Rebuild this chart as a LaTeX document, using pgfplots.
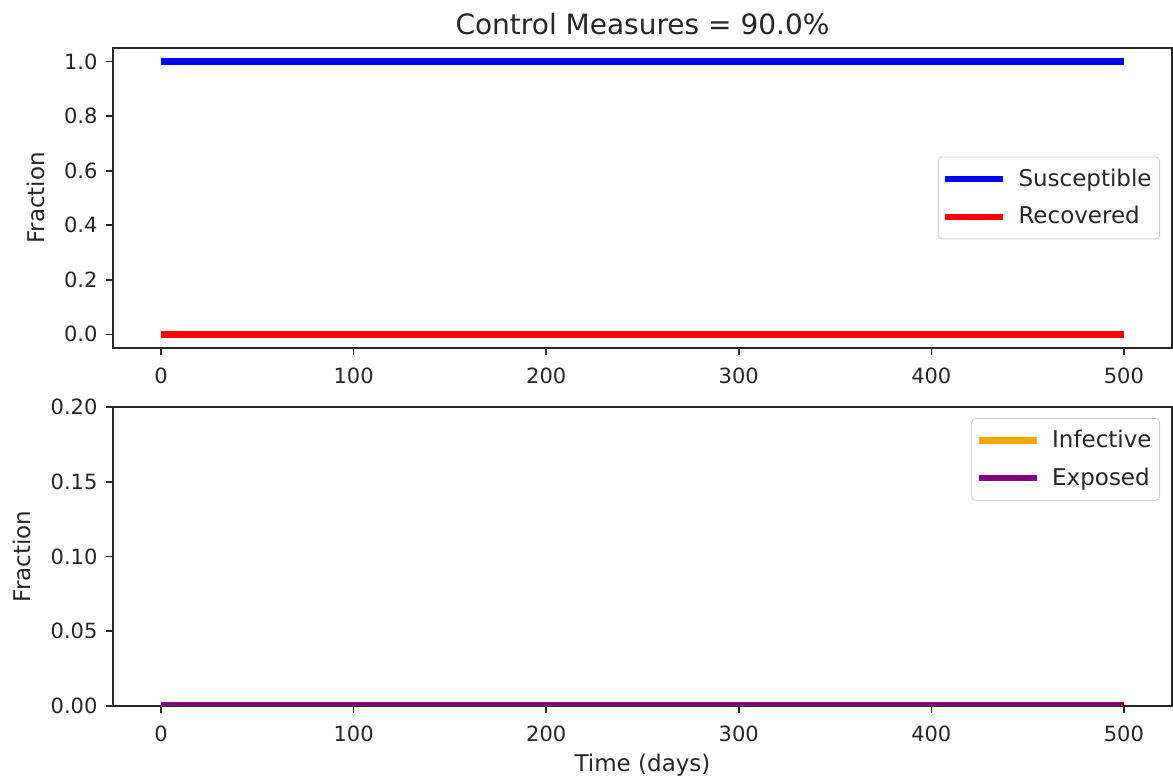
\documentclass[border=0pt]{standalone}
\usepackage{fontspec}
\setmainfont{DejaVu Sans}
\usepackage{pgfplots}
\pgfplotsset{compat=1.18}

\definecolor{cS}{RGB}{0,0,255}
\definecolor{cR}{RGB}{255,0,0}
\definecolor{cI}{RGB}{255,165,0}
\definecolor{cE}{RGB}{128,0,128}

\newcommand{\lblfont}{\fontsize{11.5}{13.5}\selectfont}

\pgfplotsset{
  mplstyle/.style={
    scale only axis,
    width=529.5pt,
    xmin=-25, xmax=525,
    xtick={0,100,200,300,400,500},
    tick align=outside,
    major tick length=3.75pt,
    tick style={black!85, line width=0.8pt},
    axis line style={black!85, line width=0.8pt},
    xtick pos=bottom, ytick pos=left,
    /pgf/number format/assume math mode=true,
    tick label style={font=\fontsize{10.5}{12.5}\selectfont, text=black!85},
    xticklabel style={yshift=-2.5pt},
    yticklabel style={xshift=-0.5pt},
    legend style={font=\lblfont, text=black!85,
      draw=black!20, rounded corners=2pt, fill=white, fill opacity=0.8,
      text opacity=1, inner xsep=2pt, inner ysep=4pt,
      row sep=4.5pt, column sep=4pt, cells={anchor=west}},
    legend image code/.code={\draw[##1, line width=3.2pt] (0pt,0pt) -- (29pt,0pt);},
    every axis plot/.append style={line width=3.3pt, line cap=butt},
  }
}

\begin{document}
\begin{tikzpicture}
\useasboundingbox (0,0) rectangle (586.5pt,390pt);

% top panel
\begin{axis}[
  mplstyle,
  height=150pt,
  at={(56.5pt,216pt)}, anchor=south west,
  ymin=-0.05, ymax=1.05,
  ytick={0,0.2,0.4,0.6,0.8,1.0},
  yticklabel style={/pgf/number format/.cd, fixed, fixed zerofill, precision=1},
  ylabel={Fraction},
  every axis y label/.style={at={(rel axis cs:0,0.5)}, xshift=-38.5pt, rotate=90, anchor=center, font=\lblfont, text=black!85},
  title={Control Measures = 90.0\%},
  every axis title shift=0pt,
  title style={font=\fontsize{14}{16}\selectfont, text=black!85, at={(0.5,1)}, anchor=base, yshift=6.5pt},
  legend style={at={(1,0.5)}, anchor=east, xshift=-6pt},
]
\addplot[cS] coordinates {(0,1.0) (100,1.0) (200,1.0) (300,1.0) (400,1.0) (500,1.0)};
\addlegendentry{Susceptible}
\addplot[cR] coordinates {(0,0.0) (100,0.0) (200,0.0) (300,0.0) (400,0.0) (500,0.0)};
\addlegendentry{Recovered}
\end{axis}

% bottom panel
\begin{axis}[
  mplstyle,
  height=149.5pt,
  at={(56.5pt,37pt)}, anchor=south west,
  ymin=0, ymax=0.2,
  ytick={0,0.05,0.1,0.15,0.2},
  yticklabel style={/pgf/number format/.cd, fixed, fixed zerofill, precision=2},
  ylabel={Fraction},
  every axis y label/.style={at={(rel axis cs:0,0.5)}, xshift=-45.5pt, rotate=90, anchor=center, font=\lblfont, text=black!85},
  xlabel={Time (days)},
  every axis x label/.style={at={(rel axis cs:0.5,0)}, yshift=-29.5pt, anchor=center, font=\lblfont, text=black!85},
  legend style={at={(1,1)}, anchor=north east, xshift=-6pt, yshift=-5.5pt},
]
\addplot[cI] coordinates {(0,0.0002) (100,0.0002) (200,0.0002) (300,0.0002) (400,0.0002) (500,0.0002)};
\addlegendentry{Infective}
\addplot[cE] coordinates {(0,0.0004) (100,0.0004) (200,0.0004) (300,0.0004) (400,0.0004) (500,0.0004)};
\addlegendentry{Exposed}
\end{axis}
\end{tikzpicture}
\end{document}
